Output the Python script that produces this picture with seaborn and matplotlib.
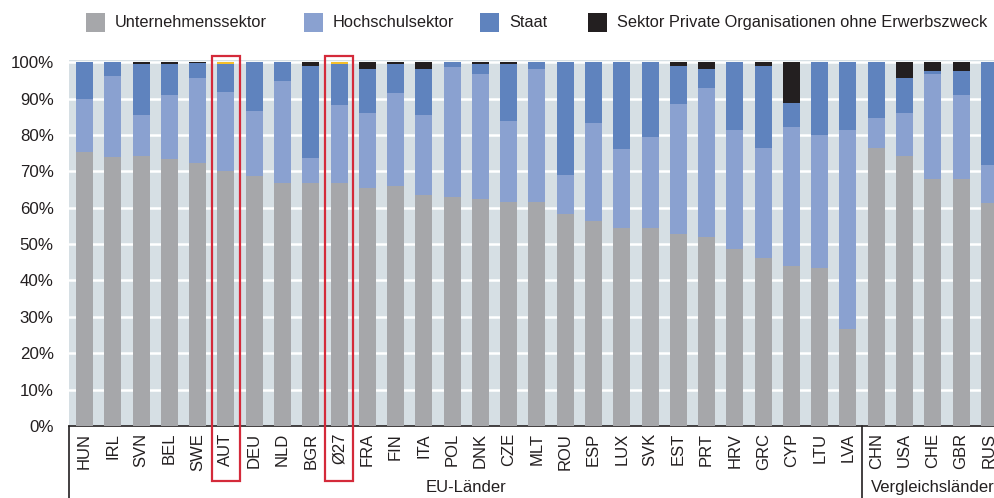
from __future__ import annotations

import matplotlib

matplotlib.use("Agg")

import matplotlib.pyplot as plt
import pandas as pd
import seaborn as sns
from matplotlib.patches import Rectangle
from matplotlib.transforms import blended_transform_factory

COUNTRIES = [
    "HUN", "IRL", "SVN", "BEL", "SWE", "AUT", "DEU", "NLD", "BGR", "Ø27",
    "FRA", "FIN", "ITA", "POL", "DNK", "CZE", "MLT", "ROU", "ESP", "LUX",
    "SVK", "EST", "PRT", "HRV", "GRC", "CYP", "LTU", "LVA",
    "CHN", "USA", "CHE", "GBR", "RUS",
]
UNTERNEHMEN = [
    75.4, 74.0, 74.1, 73.5, 72.2, 70.0, 68.8, 66.8, 66.8, 66.8,
    65.4, 65.9, 63.5, 63.0, 62.5, 61.6, 61.6, 58.2, 56.3, 54.3,
    54.3, 52.9, 51.9, 48.6, 46.2, 43.9, 43.3, 26.6,
    76.5, 74.1, 67.8, 67.8, 61.2,
]
HOCHSCHULE = [
    14.4, 22.2, 11.5, 17.4, 23.4, 21.8, 17.7, 28.0, 6.8, 21.4,
    20.6, 25.5, 22.1, 35.6, 34.2, 22.2, 36.5, 10.7, 26.9, 21.8,
    25.1, 35.6, 41.0, 32.7, 30.3, 38.2, 36.6, 54.7,
    8.1, 11.9, 28.9, 23.1, 10.5,
]
STAAT = [
    10.2, 3.8, 13.9, 8.6, 4.3, 7.7, 13.5, 5.2, 25.3, 11.3,
    12.0, 8.1, 12.4, 1.4, 2.8, 15.7, 1.9, 31.1, 16.8, 23.9,
    20.6, 10.5, 5.1, 18.7, 22.5, 6.8, 20.1, 18.7,
    15.4, 9.6, 0.8, 6.6, 28.3,
]
PRIVAT = [
    0.0, 0.0, 0.5, 0.5, 0.1, 0.0, 0.0, 0.0, 1.1, 0.0,
    2.0, 0.5, 2.0, 0.0, 0.5, 0.5, 0.0, 0.0, 0.0, 0.0,
    0.0, 1.0, 2.0, 0.0, 1.0, 11.1, 0.0, 0.0,
    0.0, 4.4, 2.5, 2.5, 0.0,
]
# small unlabelled rest shown on top of AUT and the EU average
SONSTIGE = [
    0.0, 0.0, 0.0, 0.0, 0.0, 0.5, 0.0, 0.0, 0.0, 0.5,
    0.0, 0.0, 0.0, 0.0, 0.0, 0.0, 0.0, 0.0, 0.0, 0.0,
    0.0, 0.0, 0.0, 0.0, 0.0, 0.0, 0.0, 0.0,
    0.0, 0.0, 0.0, 0.0, 0.0,
]
GROUPS = [("EU-Länder", 0, 27), ("Vergleichsländer", 28, 32)]
HIGHLIGHT = ["AUT", "Ø27"]

SERIES = [
    ("Unternehmenssektor", "#a6a7aa"),
    ("Hochschulsektor", "#8aa1d0"),
    ("Staat", "#5f83be"),
    ("Sektor Private Organisationen ohne Erwerbszweck", "#231f20"),
    ("Sonstige", "#f5bf2a"),
]
# left edge of each legend swatch, in pixels from the left
LEGEND_X = [86, 304, 480, 588]

BACKGROUND = "#d6dfe4"
TEXT = "#231f20"
RED = "#d42a3a"
W, H = 995, 498


def build_table() -> pd.DataFrame:
    table = pd.DataFrame(
        {
            "country": COUNTRIES,
            "Unternehmenssektor": UNTERNEHMEN,
            "Hochschulsektor": HOCHSCHULE,
            "Staat": STAAT,
            "Sektor Private Organisationen ohne Erwerbszweck": PRIVAT,
            "Sonstige": SONSTIGE,
        }
    )
    names = [name for name, _ in SERIES]
    cumulative = table[names].cumsum(axis=1)
    cumulative.insert(0, "country", table["country"])
    return cumulative


def draw_legend(fig) -> None:
    for (name, color), x in zip(SERIES[:4], LEGEND_X):
        fig.patches.append(
            Rectangle(
                (x / W, 1 - 32 / H),
                19 / W,
                19 / H,
                transform=fig.transFigure,
                facecolor=color,
                edgecolor="none",
            )
        )
        fig.text(x / W + 29 / W, 1 - 22.5 / H, name, ha="left", va="center",
                 fontsize=11.8, color=TEXT)


def main() -> None:
    sns.set_theme(style="white")
    plt.rcParams["font.family"] = ["Liberation Sans", "DejaVu Sans"]

    cumulative = build_table()

    fig = plt.figure(figsize=(W / 100, H / 100), dpi=100)
    ax = fig.add_axes([69 / W, 1 - 426 / H, 1 - 69 / W, 366 / H])
    ax.set_facecolor(BACKGROUND)

    # stacked bars: draw the running totals from the top series down
    for name, color in reversed(SERIES):
        sns.barplot(
            data=cumulative,
            x="country",
            y=name,
            order=COUNTRIES,
            color=color,
            width=0.6,
            saturation=1,
            edgecolor="none",
            linewidth=0,
            ax=ax,
            zorder=3,
        )

    ax.set_ylim(0, 100.6)
    ax.set_xlim(-0.55, 32.2)
    ax.set_yticks(range(0, 101, 10))
    ax.set_yticklabels([f"{v}%" for v in range(0, 101, 10)], fontsize=12.2, color=TEXT)
    ax.grid(axis="y", color="white", linewidth=1.8, zorder=1)
    ax.set_axisbelow(True)
    ax.set_xlabel("")
    ax.set_ylabel("")
    ax.tick_params(axis="y", length=0, pad=11)
    ax.tick_params(axis="x", length=0, pad=5)
    plt.setp(ax.get_xticklabels(), rotation=90, fontsize=12, color=TEXT)

    for side in ["left", "right", "top"]:
        ax.spines[side].set_visible(False)
    ax.spines["bottom"].set_color(TEXT)
    ax.spines["bottom"].set_linewidth(1.2)

    trans = blended_transform_factory(ax.transData, ax.transAxes)
    ax.plot([-0.55, -0.55], [0, -0.2], color=TEXT, lw=1.2, transform=trans, clip_on=False)
    ax.plot([27.5, 27.5], [0, -0.2], color=TEXT, lw=1.2, transform=trans, clip_on=False)

    for label, start, end in GROUPS:
        ax.text(
            (start + end) / 2,
            -0.168,
            label,
            transform=trans,
            ha="center",
            va="center",
            fontsize=12,
            color=TEXT,
        )

    for country in HIGHLIGHT:
        idx = COUNTRIES.index(country)
        ax.add_patch(
            Rectangle(
                (idx - 0.5, -0.15),
                1.0,
                1.161,
                transform=trans,
                fill=False,
                edgecolor=RED,
                linewidth=1.6,
                clip_on=False,
                zorder=5,
            )
        )

    draw_legend(fig)

    fig.savefig("out.png", dpi=100)
    plt.close(fig)


if __name__ == "__main__":
    main()
